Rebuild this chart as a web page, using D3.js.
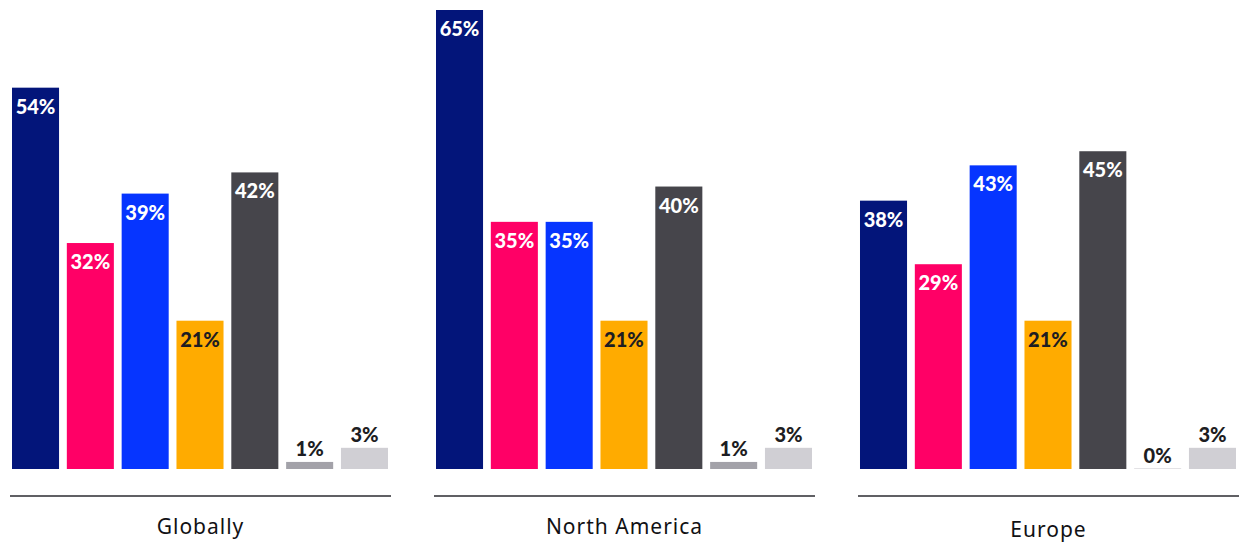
<!DOCTYPE html>
<html>
<head>
<meta charset="utf-8">
<script src="https://cdn.jsdelivr.net/npm/d3@7"></script>
<style>
  html, body { margin: 0; padding: 0; background: #ffffff; }
  svg { display: block; }
</style>
</head>
<body>
<svg id="chart" width="1251" height="543"></svg>
<script>
// Regions shown as separate bar groups
const regions = ["Globally", "North America", "Europe"];
// Seven answer options per region, in drawing order
const options = ["A", "B", "C", "D", "E", "F", "G"];
// Share of respondents (%) per option, one array per region
const globally = [54, 32, 39, 21, 42, 1, 3];
const northAmerica = [65, 35, 35, 21, 40, 1, 3];
const europe = [38, 29, 43, 21, 45, 0, 3];
const seriesValues = [globally, northAmerica, europe];
// Bar fill per option
const barColors = ["#03157a", "#ff0066", "#0635ff", "#ffab00", "#46454b", "#a3a2a9", "#d0cfd4"];
// Label colour per option when drawn inside the bar
const insideLabelColors = ["#ffffff", "#ffffff", "#ffffff", "#1d1d22", "#ffffff", "#ffffff", "#ffffff"];

const svg = d3.select("#chart");
const baseline = 469;

const x0 = d3.scaleBand()
  .domain(regions)
  .range([12, 1236])
  .paddingInner(0.1132)
  .paddingOuter(0);

const x1 = d3.scaleBand()
  .domain(options)
  .range([0, x0.bandwidth()])
  .paddingInner(0.142)
  .paddingOuter(0);

const y = d3.scaleLinear()
  .domain([0, 65])
  .range([baseline, 10]);

const rows = regions.map((r, i) => ({
  region: r,
  items: options.map((o, j) => ({ option: o, value: seriesValues[i][j], idx: j }))
}));

const groups = svg.selectAll("g.region")
  .data(rows)
  .join("g")
  .attr("class", "region")
  .attr("transform", d => `translate(${x0(d.region)},0)`);

// Bars (a zero value keeps a hairline so the slot stays visible)
groups.selectAll("rect.bar")
  .data(d => d.items)
  .join("rect")
  .attr("class", "bar")
  .attr("x", d => x1(d.option))
  .attr("width", x1.bandwidth())
  .attr("y", d => d.value === 0 ? baseline - 0.6 : y(d.value))
  .attr("height", d => d.value === 0 ? 0.6 : baseline - y(d.value))
  .attr("fill", d => d.value === 0 ? "#d0cfd4" : barColors[d.idx]);

// Value labels: inside the top of tall bars, above short ones
const small = d => baseline - y(d.value) < 40;
groups.selectAll("text.val")
  .data(d => d.items)
  .join("text")
  .attr("class", "val")
  .attr("x", d => x1(d.option) + x1.bandwidth() / 2)
  .attr("y", d => small(d) ? y(d.value) - 6 : y(d.value) + 26)
  .attr("text-anchor", "middle")
  .attr("font-family", "Lato, 'DejaVu Sans', sans-serif")
  .attr("font-weight", 900)
  .attr("font-size", "20px")
  .attr("fill", d => small(d) ? "#1d1d22" : insideLabelColors[d.idx])
  .text(d => `${d.value}%`);

// Baseline rule under each group
groups.append("line")
  .attr("x1", -2)
  .attr("x2", x0.bandwidth() + 3)
  .attr("y1", 496)
  .attr("y2", 496)
  .attr("stroke", "#2b2b30")
  .attr("stroke-width", 1.5);

// Region names
groups.append("text")
  .attr("x", x0.bandwidth() / 2 + 0.5)
  .attr("y", d => d.region === "Europe" ? 537 : 534)
  .attr("text-anchor", "middle")
  .attr("font-family", "'Noto Sans', sans-serif")
  .attr("font-size", "21px")
  .attr("letter-spacing", "1px")
  .attr("fill", "#111114")
  .text(d => d.region);
</script>
</body>
</html>
